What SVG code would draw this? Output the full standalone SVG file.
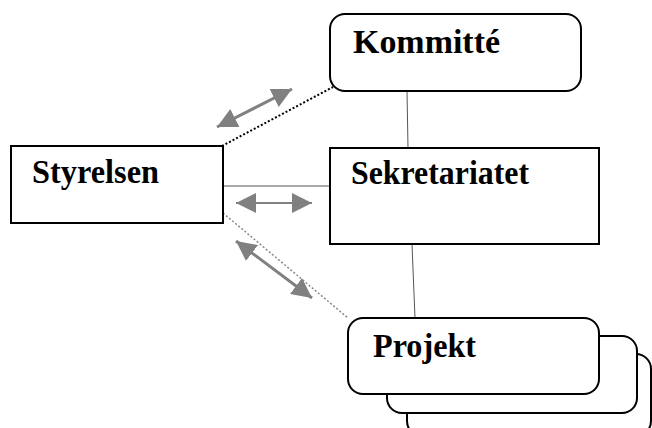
<svg xmlns="http://www.w3.org/2000/svg" width="652" height="428" viewBox="0 0 652 428">
<style>
.box{fill:#fff;stroke:#000;stroke-width:2}
.lbl{font-family:"Liberation Serif","Times New Roman",serif;font-weight:bold;font-size:34px;fill:#000}
.ln{stroke:#555;stroke-width:1;fill:none}
.arr{stroke:#808080;fill:none}
</style>
<defs>
<marker id="ah" viewBox="0 0 10 10" refX="10" refY="5" markerWidth="20" markerHeight="20" markerUnits="userSpaceOnUse" orient="auto-start-reverse">
<path d="M0,0 L10,5 L0,10 Z" fill="#808080"/>
</marker>
</defs>
<g id="connectors">
<line x1="222" y1="146" x2="333" y2="87" stroke="#000" stroke-width="2" stroke-dasharray="2,2"/>
<line x1="223" y1="213" x2="348" y2="318" stroke="#888" stroke-width="1.5" stroke-dasharray="2,2"/>
<line class="ln" x1="407" y1="91" x2="408" y2="148"/>
<line class="ln" x1="412" y1="244" x2="415" y2="318"/>
<line class="ln" x1="222" y1="186" x2="330" y2="186"/>
<line class="arr" stroke-width="3" x1="217" y1="127" x2="292" y2="89" marker-start="url(#ah)" marker-end="url(#ah)"/>
<line class="arr" stroke-width="2" x1="236" y1="203" x2="312" y2="203" marker-start="url(#ah)" marker-end="url(#ah)"/>
<line class="arr" stroke-width="3" x1="236" y1="241" x2="312" y2="298" marker-start="url(#ah)" marker-end="url(#ah)"/>
</g>
<g id="styrelsen">
<rect class="box" x="11" y="146" width="212" height="77"/>
<text class="lbl" x="32" y="183" textLength="127" lengthAdjust="spacingAndGlyphs">Styrelsen</text>
</g>
<g id="kommitte">
<rect class="box" x="330" y="14" width="251" height="77" rx="15"/>
<text class="lbl" x="353" y="53" textLength="147" lengthAdjust="spacingAndGlyphs">Kommitté</text>
</g>
<g id="sekretariatet">
<rect class="box" x="330" y="148" width="269" height="96"/>
<text class="lbl" x="351" y="184" textLength="178" lengthAdjust="spacingAndGlyphs">Sekretariatet</text>
</g>
<g id="projekt">
<rect class="box" x="407" y="354" width="244" height="82" rx="15"/>
<rect class="box" x="387" y="336" width="250" height="77" rx="15"/>
<rect class="box" x="348" y="318" width="251" height="76" rx="15"/>
<text class="lbl" x="373" y="357" textLength="103" lengthAdjust="spacingAndGlyphs">Projekt</text>
</g>
</svg>
